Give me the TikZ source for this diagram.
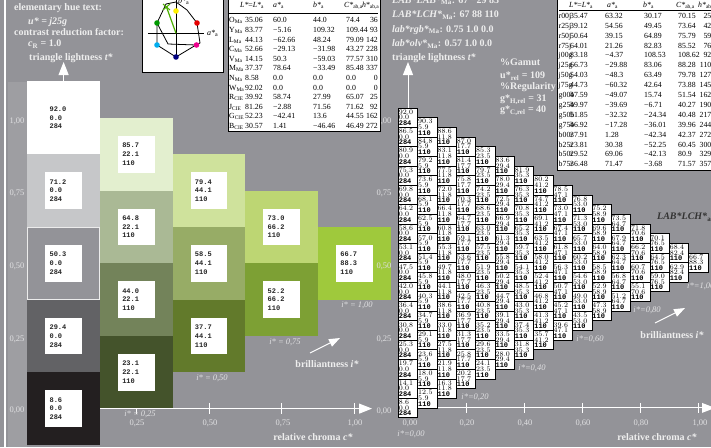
\documentclass[tikz,border=0pt]{standalone}
\usepackage{fontspec}
\setmainfont{Liberation Serif}
\setmonofont{Liberation Mono}
\usetikzlibrary{arrows.meta}
\definecolor{bgc}{RGB}{147,147,152}
\definecolor{stripc}{RGB}{158,158,162}
\definecolor{txtc}{RGB}{238,238,238}
\definecolor{labc}{RGB}{224,224,226}
\definecolor{cG4}{RGB}{255,255,255}
\definecolor{cG3}{RGB}{198,199,201}
\definecolor{cG2}{RGB}{147,147,152}
\definecolor{cG1}{RGB}{98,98,101}
\definecolor{cG0}{RGB}{35,31,32}
\definecolor{cA3}{RGB}{227,239,207}
\definecolor{cA2}{RGB}{170,185,149}
\definecolor{cA1}{RGB}{115,131,90}
\definecolor{cA0}{RGB}{68,83,43}
\definecolor{cB2}{RGB}{207,226,156}
\definecolor{cB1}{RGB}{151,172,102}
\definecolor{cB0}{RGB}{98,122,43}
\definecolor{cC1}{RGB}{189,214,115}
\definecolor{cC0}{RGB}{125,160,52}
\definecolor{cD0}{RGB}{159,201,60}
\tikzset{
  btxt/.style={text=txtc,font=\fontsize{10}{12}\selectfont\bfseries,inner sep=0,anchor=base west},
  lbl/.style={text=labc,font=\fontsize{8.5}{10}\selectfont,inner sep=0},
  ilbl/.style={text=labc,font=\fontsize{8.5}{10}\selectfont\itshape,inner sep=0},
  ttxt/.style={text=black,font=\fontsize{7.8}{9}\selectfont,inner sep=0,anchor=base west},
  lcell/.style={minimum width=72.7pt,minimum height=72.7pt,inner sep=0,outer sep=0},
  lbox/.style={fill=white,minimum height=36.7pt,text width=28.1pt,inner xsep=4.3pt,inner ysep=0,align=left,font=\fontsize{7}{8.8}\selectfont\ttfamily\bfseries,text=black!85},
  rcell/.style={draw=black,line width=0.7pt,fill=white,minimum height=19.35pt,text width=18.35pt,inner xsep=0.5pt,inner ysep=0,outer sep=0,align=left,font=\fontsize{7}{5.6}\selectfont\ttfamily\bfseries},
  axisl/.style={draw=white,line width=1pt},
  arr/.style={-{Triangle[length=13pt,width=10pt]}}
}
\begin{document}
\begin{tikzpicture}[x=1pt,y=-1pt]
\useasboundingbox (0,0) rectangle (711,447);
\fill[bgc] (0,0) rectangle (711,447);
\draw[white,line width=1.2pt] (5,0) -- (5,447);
\fill[stripc] (8,82) rectangle (27,447);

% ---------- left triangle ----------
\foreach \c in {1,2,3,4}{
  \draw[axisl] ({63.6+\c*72.7},403) -- ({63.6+\c*72.7},414);
}
\foreach \j/\k/\L/\C/\h/\col in {
 0/0/8.6/0.0/284/cG0, 0/1/29.4/0.0/284/cG1, 0/2/50.3/0.0/284/cG2, 0/3/71.2/0.0/284/cG3, 0/4/92.0/0.0/284/cG4,
 1/0/23.1/22.1/110/cA0, 1/1/44.0/22.1/110/cA1, 1/2/64.8/22.1/110/cA2, 1/3/85.7/22.1/110/cA3,
 2/0/37.7/44.1/110/cB0, 2/1/58.5/44.1/110/cB1, 2/2/79.4/44.1/110/cB2,
 3/0/52.2/66.2/110/cC0, 3/1/73.0/66.2/110/cC1,
 4/0/66.7/88.3/110/cD0}{
  \node[lcell,fill=\col] (L-\j-\k) at ({63.6+\j*72.7},{408.6-(\k+\j/2)*72.7}) {};
  \node[lbox] (B-\j-\k) at (L-\j-\k) {\L\\\C\\\h};
}
\draw[white!85!gray,line width=0.9pt] ([shift={(0.5,-0.5)}]L-0-2.south west) rectangle ([shift={(-0.5,0.5)}]L-0-2.north east);
\coordinate (la0) at (100,408.6);
\coordinate (la1) at (372,408.6);
\draw[axisl,arr,white] (la0) -- (la1);
\coordinate (lv1) at (63.6,62);
\draw[axisl,arr,white] (L-0-4.north) -- (lv1);

\node[lbl] (ly4) at (17,121) {1,00};
\node[lbl] (ly3) at (17,193.5) {0,75};
\node[lbl] (ly2) at (17,266) {0,50};
\node[lbl] (ly1) at (17,339) {0,25};
\node[lbl] (ly0) at (17,410.5) {0,00};
\node[lbl] (lx1) at (137,423) {0,25};
\node[lbl] (lx2) at (210,423) {0,50};
\node[lbl] (lx3) at (283,423) {0,75};
\node[lbl] (lx4) at (355,423) {1,00};
\node[ilbl] (li1) at (140,414) {i* = 0,25};
\node[ilbl] (li2) at (212,378) {i* = 0,50};
\node[ilbl] (li3) at (285,342) {i* = 0,75};
\node[ilbl] (li4) at (357,305) {i* = 1,00};
\node[btxt,anchor=center] (lbr) at (327,364) {brilliantness \textit{i*}};
\coordinate (lba) at (310,353);
\coordinate (lbb) at (340,338);
\draw[white,line width=1pt,-{Triangle[length=11pt,width=8pt]}] (lba) -- (lbb);
\node[btxt,anchor=center] (lrc) at (313,437) {relative chroma \textit{c*}};

% ---------- right triangle ----------
\foreach \c in {1,2,3,4,5}{
  \draw[axisl] ({408+\c*0.2*290.3},402.9) -- ({408+\c*0.2*290.3},412.9);
}
\coordinate (ra0) at (418,407.9);
\coordinate (ra1) at (716,407.9);
\draw[axisl] (ra0) -- (ra1);
\foreach \j in {0,...,15}{
  \pgfmathtruncatemacro\kmax{15-\j}
  \foreach \k in {0,...,\kmax}{
    \pgfmathsetmacro\cx{408+\j*19.353}
    \pgfmathsetmacro\cy{407.9-(\k+\j/2)*19.353}
    \pgfmathsetmacro\Lv{8.58+83.44*(\k+\j/2)/15+16.43*\j/15}
    \pgfmathsetmacro\Cv{88.28*\j/15}
    \ifnum\j=0 \def\hv{284}\else\def\hv{110}\fi
    \node[rcell] (r-\j-\k) at (\cx,\cy) {\pgfmathprintnumber[fixed,fixed zerofill,precision=1]{\Lv}\\\pgfmathprintnumber[fixed,fixed zerofill,precision=1]{\Cv}\\\hv};
  }
}
\fill[white] (702,402.9) -- (715,407.9) -- (702,412.9) -- cycle;
\coordinate (rv1) at (408,62);
\draw[axisl,arr,white] (r-0-15.north) -- (rv1);

\node[lbl] (ry4) at (384,121) {1,00};
\node[lbl] (ry3) at (384,193.5) {0,75};
\node[lbl] (ry2) at (384,266) {0,50};
\node[lbl] (ry1) at (384,339) {0,25};
\node[lbl] (ry0) at (384,411) {0,00};
\node[lbl] (rx0) at (410,423) {0,00};
\node[lbl] (rx1) at (467,423) {0,20};
\node[lbl] (rx2) at (525,423) {0,40};
\node[lbl] (rx3) at (583,423) {0,60};
\node[lbl] (rx4) at (641,423) {0,80};
\node[lbl] (rx5) at (700,423) {1,00};
\node[ilbl] (ri0) at (411,434) {i*=0,00};
\node[ilbl] (ri1) at (475,397) {i*=0,20};
\node[ilbl] (ri2) at (532,368) {i*=0,40};
\node[ilbl] (ri3) at (590,339) {i*=0,60};
\node[ilbl] (ri4) at (647,310) {i*=0,80};
\node[ilbl,anchor=west] (ri5) at (687,286) {i*=1,00};
\node[btxt,anchor=center] (rbr) at (672,335) {brilliantness \textit{i*}};
\coordinate (rba) at (655,323);
\coordinate (rbb) at (685,308);
\draw[white,line width=1pt,-{Triangle[length=11pt,width=8pt]}] (rba) -- (rbb);
\node[btxt,anchor=center] (rrc) at (657,437) {relative chroma \textit{c*}};
\node[btxt,anchor=west,text=black!80] (rlab) at (657,217) {\textit{LAB*LCH*}\textsubscript{a}};

% ---------- top texts ----------
\node[btxt] (t1) at (14,10.8) {elementary hue text:};
\node[btxt] (t2) at (28,24) {\textit{u* = j25g}};
\node[btxt] (t3) at (14,35) {contrast reduction factor:};
\node[btxt] (t4) at (28,46.8) {\textit{c}\textsubscript{R} = 1.0};
\node[btxt] (t5) at (29,60.2) {triangle lightness \textit{t*}};

\node[btxt] (m0) at (392,3) {\textit{LAB*LAB*}\textsubscript{Ma}: 67 −29 83};
\node[btxt] (m1) at (392,17.5) {\textit{LAB*LCH*}\textsubscript{Ma}: 67 88 110};
\node[btxt] (m2) at (392,32) {\textit{lab*rgb*}\textsubscript{Ma}: 0.75 1.0 0.0};
\node[btxt] (m3) at (392,46.5) {\textit{lab*olv*}\textsubscript{Ma}: 0.57 1.0 0.0};
\node[btxt] (m4) at (392,60.5) {triangle lightness \textit{t*}};
\node[btxt] (g1) at (500,65.5) {\%Gamut};
\node[btxt] (g2) at (500,78.5) {u*\textsubscript{rel} = 109};
\node[btxt] (g3) at (500,89.5) {\%Regularity};
\node[btxt] (g4) at (500,101.5) {g*\textsubscript{H,rel} = 31};
\node[btxt] (g5) at (500,112.5) {g*\textsubscript{C,rel} = 40};

% ---------- hue diagram ----------
\node[draw=black,fill=white,line width=0.8pt,minimum width=81pt,minimum height=74pt,anchor=north west,inner sep=0] (hue) at (141.7,-2) {};
\draw[line width=0.7pt] (148,33.3) -- (204,33.3);
\draw[line width=0.7pt] (176,0) -- (176,57);
\draw[line width=0.8pt] (157,23) -- (166,4) -- (176,2) -- (187,10) -- (197,23) -- (200,43) -- (196,45) -- (176,57) -- (157,45) -- cycle;
\draw[line width=0.8pt] (157,23) -- (168,44) -- (196,45);
\draw[green!55!black!70!yellow,line width=1.2pt] (176,33.3) -- (166.5,7);
\draw[green!55!black!70!yellow,line width=1pt] (163,4) -- (170,10) (170,4) -- (163,10);
\fill[yellow] (176,11) circle (2.8);
\fill[red!90!black] (197,23) circle (2.8);
\fill[magenta] (196.5,45) circle (2.8);
\fill[blue!50!black] (176,57) circle (2.8);
\fill[cyan] (157,45) circle (2.8);
\fill[green!60!black] (157,23) circle (2.8);
\node[font=\fontsize{8}{9}\selectfont\itshape,inner sep=0,anchor=west] (hax) at (207,33) {a*\textsubscript{\upshape a}};
\node[font=\fontsize{8}{9}\selectfont\itshape,inner sep=0,anchor=west] (hbx) at (178,1) {b*\textsubscript{\upshape a}};

% ---------- middle table ----------
\node[draw=black,fill=white,line width=0.8pt,minimum width=152pt,minimum height=134pt,anchor=north west,inner sep=0] (tabM) at (227.5,-3) {};
\draw[line width=0.6pt] (229,13) -- (378,13);
\node[ttxt] (mhL) at (240,7.5) {\textit{L*}=\textit{L*}\textsubscript{a}};
\node[ttxt] (mha) at (273,7.5) {\textit{a*}\textsubscript{a}};
\node[ttxt] (mhb) at (313,7.5) {\textit{b*}\textsubscript{a}};
\node[ttxt] (mhC) at (344,7.5) {\textit{C*}\textsubscript{ab,a}};
\node[ttxt,anchor=base east] (mhh) at (379.5,7.5) {\textit{h*}\textsubscript{ab,a}};
\foreach \n/\l/\a/\b/\c/\h [count=\i from 0] in {
 O\textsubscript{Ma}/35.06/60.0/44.0/74.4/36,
 Y\textsubscript{Ma}/83.77/−5.16/109.32/109.44/93,
 L\textsubscript{Ma}/44.13/−62.66/48.24/79.09/142,
 C\textsubscript{Ma}/52.66/−29.13/−31.98/43.27/228,
 V\textsubscript{Ma}/14.15/50.3/−59.03/77.57/310,
 M\textsubscript{Ma}/37.37/78.64/−33.49/85.48/337,
 N\textsubscript{Ma}/8.58/0.0/0.0/0.0/0,
 W\textsubscript{Ma}/92.02/0.0/0.0/0.0/0,
 R\textsubscript{CIE}/39.92/58.74/27.99/65.07/25,
 J\textsubscript{CIE}/81.26/−2.88/71.56/71.62/92,
 G\textsubscript{CIE}/52.23/−42.41/13.6/44.55/162,
 B\textsubscript{CIE}/30.57/1.41/−46.46/46.49/272}{
  \pgfmathsetmacro\yy{22.8+9.6*\i}
  \node[ttxt] (mr\i) at (229,\yy) {\n};
  \node[ttxt] (ml\i) at (245,\yy) {\l};
  \node[ttxt] (ma\i) at (273,\yy) {\a};
  \node[ttxt] (mb\i) at (313,\yy) {\b};
  \node[ttxt] (mc\i) at (346,\yy) {\c};
  \node[ttxt,anchor=base east] (mh\i) at (378,\yy) {\h};
}

% ---------- right table ----------
\node[draw=black,fill=white,line width=0.8pt,minimum width=160pt,minimum height=173pt,anchor=north west,inner sep=0] (tabR) at (557,-3) {};
\draw[line width=0.6pt] (559,10.5) -- (712,10.5);
\node[ttxt] (rhL) at (569,7.5) {\textit{L*}=\textit{L*}\textsubscript{a}};
\node[ttxt] (rha) at (607,7.5) {\textit{a*}\textsubscript{a}};
\node[ttxt] (rhb) at (643,7.5) {\textit{b*}\textsubscript{a}};
\node[ttxt] (rhC) at (676,7.5) {\textit{C*}\textsubscript{ab,a}};
\node[ttxt] (rhh) at (698,7.5) {\textit{h*}\textsubscript{ab,a}};
\foreach \n/\l/\a/\b/\c/\h [count=\i from 0] in {
 r00j/35.47/63.32/30.17/70.15/25,
 r25j/39.12/54.56/49.45/73.64/42,
 r50j/50.64/39.15/64.89/75.79/59,
 r75j/64.01/21.26/82.83/85.52/76,
 j00g/83.18/−4.37/108.53/108.62/92,
 j25g/66.73/−29.88/83.06/88.28/110,
 j50g/54.03/−48.3/63.49/79.78/127,
 j75g/44.73/−60.32/42.64/73.88/145,
 g00b/47.59/−49.07/15.74/51.54/162,
 g25b/49.97/−39.69/−6.71/40.27/190,
 g50b/51.85/−32.32/−24.34/40.48/217,
 g75b/46.92/−17.28/−36.01/39.96/244,
 b00r/37.91/1.28/−42.34/42.37/272,
 b25r/23.81/30.38/−52.25/60.45/300,
 b50r/29.52/69.06/−42.13/80.9/329,
 b75r/36.48/71.47/−3.68/71.57/357}{
  \pgfmathsetmacro\yy{18.3+9.9*\i}
  \node[ttxt] (rr\i) at (558.5,\yy) {\n};
  \node[ttxt] (rl\i) at (570,\yy) {\l};
  \node[ttxt] (ra\i) at (605,\yy) {\a};
  \node[ttxt] (rb\i) at (644,\yy) {\b};
  \node[ttxt] (rc\i) at (678,\yy) {\c};
  \node[ttxt,anchor=base east] (rh\i) at (711.5,\yy) {\h};
}
\end{tikzpicture}
\end{document}
